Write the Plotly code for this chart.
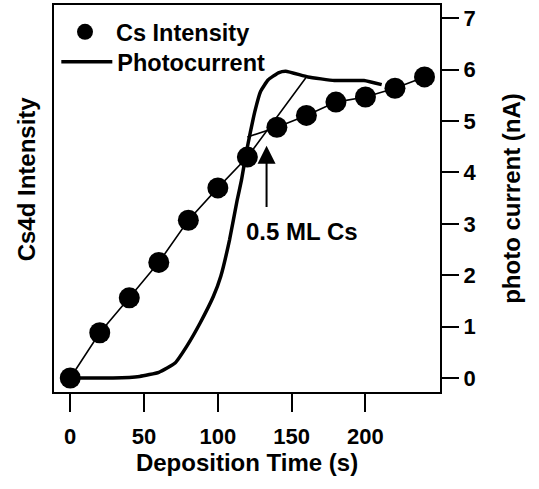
import plotly.graph_objects as go

# ---- data ----
time_s = [0, 20, 40, 60, 80, 100, 120, 140, 160, 180, 200, 220, 240]
cs_intensity = [0, 0.88, 1.56, 2.25, 3.07, 3.70, 4.30, 4.88, 5.11, 5.37, 5.47, 5.64, 5.86]

pc_time = [0, 29, 47, 60, 71, 79, 88, 97, 102, 108, 113, 116, 119, 122, 125,
           129, 134, 141, 146, 161, 179, 199, 211]
pc_current = [0, 0, 0.03, 0.11, 0.29, 0.62, 1.07, 1.59, 1.98, 2.70, 3.45, 3.85,
              4.35, 4.78, 5.18, 5.58, 5.80, 5.94, 5.97, 5.86, 5.79, 5.79, 5.71]

# end points of the two linear guide lines (low- and high-coverage regimes)
low_fit_end_t = [160]
low_fit_end_y = [5.86]
high_fit_start_t = [120]
high_fit_start_y = [4.69]

x_ticks = [0, 50, 100, 150, 200]
y_ticks = [0, 1, 2, 3, 4, 5, 6, 7]

arrow_t = 133
arrow_tip = 4.52
arrow_tail = 3.30
label_t = 157
label_y = 2.85
label_text = "0.5 ML Cs"

FONT = "Liberation Sans, Arial, sans-serif"
xr = [-11.0, 250.5]
yr = [-0.273, 7.26]
LEG_FONT = dict(family=FONT, size=23.5, color="black", weight="bold")

fig = go.Figure()

# guide line through low-coverage dots
fig.add_trace(go.Scatter(
    x=time_s[:7] + low_fit_end_t, y=cs_intensity[:7] + low_fit_end_y,
    mode="lines", line=dict(color="black", width=1.6),
    showlegend=False, hoverinfo="skip", yaxis="y"))
# guide line through high-coverage dots
fig.add_trace(go.Scatter(
    x=high_fit_start_t + time_s[7:], y=high_fit_start_y + cs_intensity[7:],
    mode="lines", line=dict(color="black", width=1.6),
    showlegend=False, hoverinfo="skip", yaxis="y"))

fig.add_trace(go.Scatter(
    x=time_s, y=cs_intensity, mode="markers", name="Cs Intensity",
    marker=dict(color="black", size=21), yaxis="y", legend="legend"))

fig.add_trace(go.Scatter(
    x=pc_time, y=pc_current, mode="lines", name="Photocurrent",
    line=dict(color="black", width=3.5, shape="spline", smoothing=0.4),
    yaxis="y2", legend="legend2"))

fig.add_annotation(
    x=arrow_t, y=arrow_tip, ax=arrow_t, ay=arrow_tail,
    xref="x", yref="y2", axref="x", ayref="y2",
    showarrow=True, arrowhead=2, arrowsize=1.8, arrowwidth=2,
    arrowcolor="black", text="")
fig.add_annotation(
    x=label_t, y=label_y, xref="x", yref="y2", text=label_text,
    showarrow=False, font=dict(family=FONT, size=24, color="black", weight="bold"))
fig.add_annotation(
    x=-0.072, y=0.55, xref="paper", yref="paper", text="Cs4d Intensity",
    textangle=-90, showarrow=False, xanchor="center", yanchor="middle",
    font=dict(family=FONT, size=24, color="black", weight="bold"))

fig.update_layout(
    width=539, height=489,
    margin=dict(l=54, r=99, t=5, b=97, autoexpand=False),
    paper_bgcolor="white", plot_bgcolor="white",
    font=dict(family=FONT, size=22, color="black", weight="bold"),
    showlegend=True,
    legend=dict(x=0.0, y=0.987, xanchor="left", yanchor="top",
                bgcolor="rgba(0,0,0,0)", itemwidth=52, font=LEG_FONT),
    legend2=dict(x=0.006, y=0.9096, xanchor="left", yanchor="top",
                 bgcolor="rgba(0,0,0,0)", itemwidth=51, font=LEG_FONT),
    xaxis=dict(range=xr, tickvals=x_ticks, ticks="outside", ticklen=18,
               tickwidth=2, tickcolor="black", showline=True, linewidth=2,
               linecolor="black", mirror=True, showgrid=False, zeroline=False,
               automargin=False, ticklabelstandoff=6,
               title=dict(text="Deposition Time (s)", standoff=0,
                          font=dict(family=FONT, size=24, weight="bold"))),
    yaxis=dict(range=yr, showticklabels=False, ticks="", showline=True,
               linewidth=2, linecolor="black", showgrid=False, zeroline=False,
               automargin=False),
    yaxis2=dict(range=yr, overlaying="y", side="right", tickvals=y_ticks,
                ticks="outside", ticklen=17, tickwidth=2, tickcolor="black",
                showline=True, linewidth=2, linecolor="black", showgrid=False,
                zeroline=False, automargin=False,
                title=dict(text="photo current (nA)", standoff=28,
                           font=dict(family=FONT, size=24, weight="bold"))),
)

fig.write_html("out.html", config={"displayModeBar": False},
               post_script="document.body.style.margin='0';")
